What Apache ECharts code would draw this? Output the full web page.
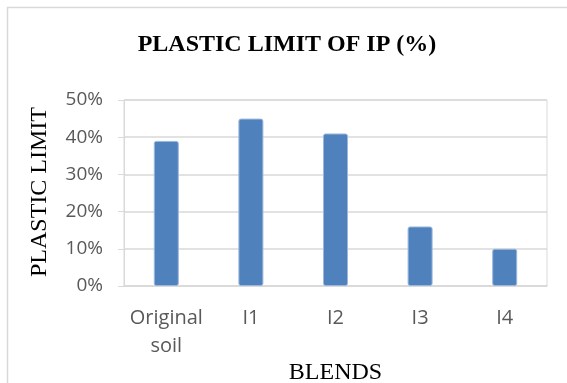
<!DOCTYPE html>
<html>
<head>
<meta charset="utf-8">
<script src="https://cdn.jsdelivr.net/npm/echarts@6/dist/echarts.min.js"></script>
<style>
  html, body { margin: 0; padding: 0; background: #fff; }
  #chart { width: 567px; height: 383px; }
</style>
</head>
<body>
<div id="chart"></div>
<script>
// Plastic limit per blend (fractions of 1)
const categories = ['Original\nsoil', 'I1', 'I2', 'I3', 'I4'];
const plasticLimit = [0.39, 0.45, 0.41, 0.16, 0.10];
const yTicks = [0, 0.1, 0.2, 0.3, 0.4, 0.5];

const chart = echarts.init(document.getElementById('chart'), null, { renderer: 'canvas' });

const grey = '#d9d9d9';
const labelColor = '#595959';
const sans = '"Open Sans", "Liberation Sans", sans-serif';
const serif = '"Liberation Serif", "DejaVu Serif", serif';

chart.setOption({
  animation: false,
  backgroundColor: '#fff',
  title: {
    text: 'PLASTIC LIMIT OF IP (%)',
    left: 282,
    top: 28,
    textAlign: 'center',
    textStyle: { fontFamily: serif, fontWeight: 'bold', fontSize: 24, color: '#000' }
  },
  graphic: [
    {
      type: 'rect',
      shape: { x: 7.5, y: 7.5, width: 620, height: 420 },
      style: { fill: 'none', stroke: grey, lineWidth: 1.5 },
      silent: true
    },
    {
      type: 'text',
      x: 40,
      y: 192,
      rotation: Math.PI / 2,
      style: {
        text: 'PLASTIC LIMIT',
        fontFamily: serif,
        fontSize: 24,
        fill: '#000',
        align: 'center',
        verticalAlign: 'middle'
      }
    }
  ],
  grid: {
    left: 124,
    right: 20,
    top: 100,
    bottom: 97,
    containLabel: false,
    outerBoundsMode: 'none',
    show: true,
    borderColor: grey,
    borderWidth: 1
  },
  xAxis: {
    type: 'category',
    data: categories,
    name: 'BLENDS',
    nameLocation: 'middle',
    nameGap: 72,
    nameTextStyle: { fontFamily: serif, fontSize: 24, color: '#000' },
    axisLine: { show: true, lineStyle: { color: grey, width: 1.5 } },
    axisTick: { show: false },
    axisLabel: {
      color: labelColor,
      fontFamily: sans,
      fontSize: 20,
      lineHeight: 28,
      margin: 18,
      interval: 0
    }
  },
  yAxis: {
    type: 'value',
    min: yTicks[0],
    max: yTicks[yTicks.length - 1],
    interval: 0.1,
    axisLine: { show: true, lineStyle: { color: grey, width: 1 } },
    axisTick: { show: true, inside: false, length: 6, lineStyle: { color: grey } },
    splitLine: { show: true, lineStyle: { color: grey, width: 1.5 } },
    axisLabel: {
      color: labelColor,
      fontFamily: sans,
      fontSize: 19,
      margin: 21,
      formatter: v => Math.round(v * 100) + '%'
    }
  },
  series: [{
    type: 'bar',
    data: plasticLimit,
    barWidth: 25,
    itemStyle: {
      color: '#4f81bd',
      borderColor: '#9bb7dc',
      borderWidth: 1,
      borderRadius: 2
    }
  }]
});
</script>
</body>
</html>
